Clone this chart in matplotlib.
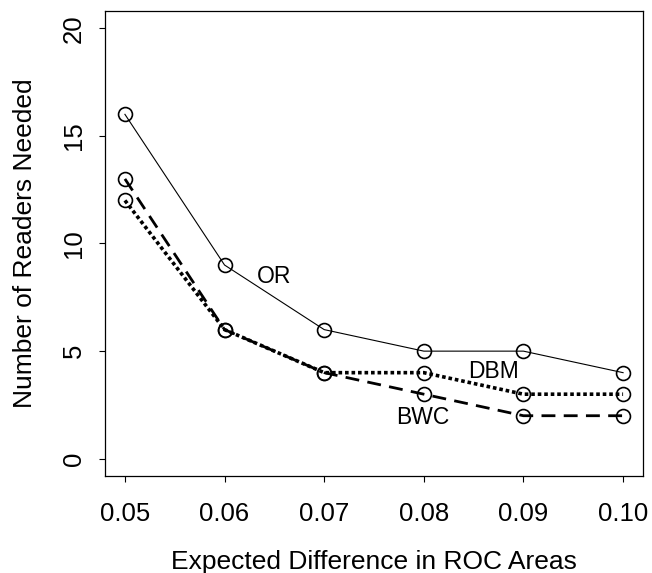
import matplotlib
matplotlib.use("Agg")
import matplotlib.pyplot as plt

plt.rcParams["font.family"] = ["Liberation Sans", "DejaVu Sans"]

diffs = [0.05, 0.06, 0.07, 0.08, 0.09, 0.10]
xtick_labels = ["0.05", "0.06", "0.07", "0.08", "0.09", "0.10"]
or_readers = [16, 9, 6, 5, 5, 4]
dbm_readers = [12, 6, 4, 4, 3, 3]
bwc_readers = [13, 6, 4, 3, 2, 2]
yticks = [0, 5, 10, 15, 20]

fig = plt.figure(figsize=(6.52, 5.73), dpi=100)
ax = fig.add_axes([105 / 652, 1 - 476 / 573, 538 / 652, 465 / 573])

mk = dict(marker="o", ms=10, mfc="none", mec="black", mew=1.2, color="black")
ax.plot(diffs, or_readers, ls="-", lw=0.8, **mk)
ax.plot(diffs, bwc_readers, ls=(0, (5, 3)), lw=2.0, **mk)
ax.plot(diffs, dbm_readers, ls=(0, (1, 0.8)), lw=2.6, **mk)

ax.text(0.06495, 8.46, "OR", fontsize=16.5, ha="center", va="center")
ax.text(0.08696, 4.04, "DBM", fontsize=16.5, ha="center", va="center")
ax.text(0.07994, 1.94, "BWC", fontsize=16.5, ha="center", va="center")

ax.set_xlim(0.048, 0.102)
ax.set_ylim(-0.8, 20.8)
ax.set_xticks(diffs)
ax.set_xticklabels(xtick_labels)
ax.set_yticks(yticks)
ax.set_yticklabels([str(v) for v in yticks], rotation=90, va="center")
ax.tick_params(direction="out", length=4, width=0.8, labelsize=18.5)
ax.tick_params(axis="x", pad=15)
ax.tick_params(axis="y", pad=10)
for s in ax.spines.values():
    s.set_linewidth(0.9)

ax.set_xlabel("Expected Difference in ROC Areas", fontsize=19, labelpad=17)
ax.set_ylabel("Number of Readers Needed", fontsize=19, labelpad=18)

fig.savefig("out.png")
